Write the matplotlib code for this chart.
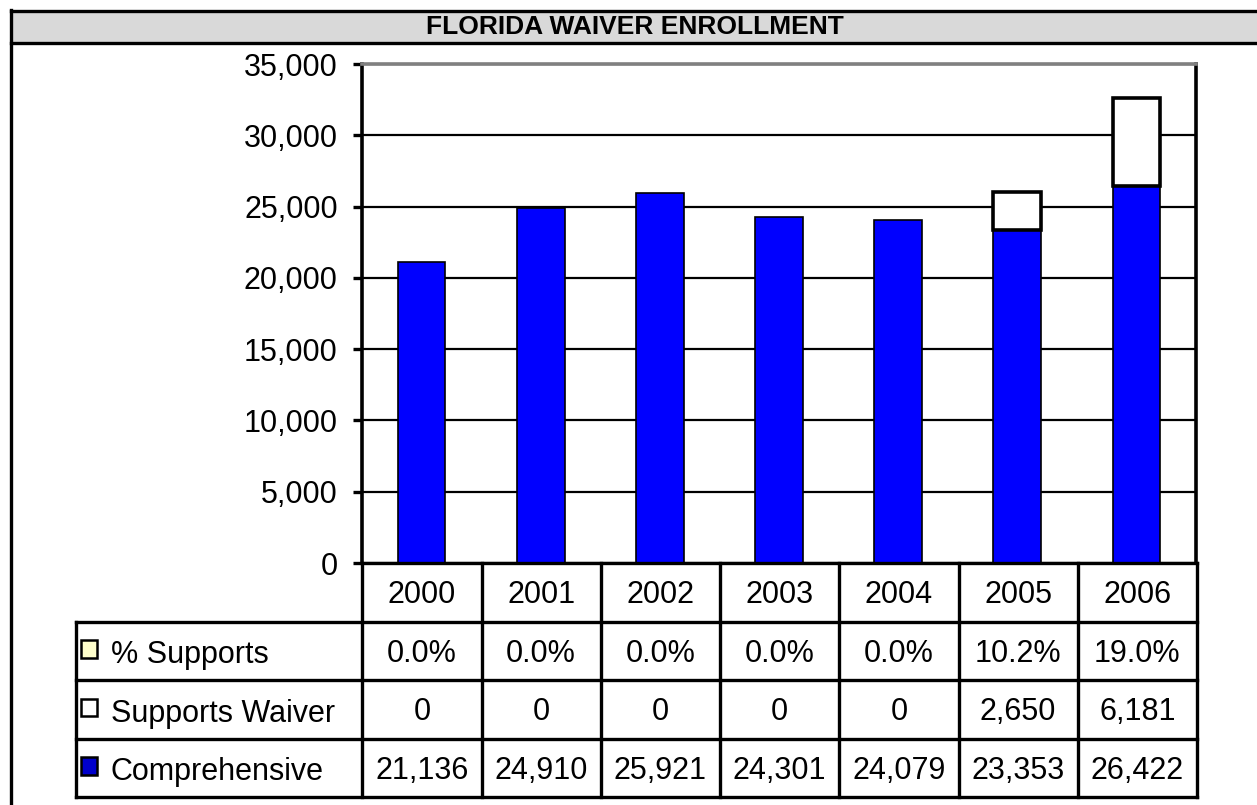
import matplotlib
matplotlib.use('Agg')
import matplotlib.pyplot as plt
from matplotlib.patches import Rectangle
from matplotlib.lines import Line2D
from matplotlib.ticker import FuncFormatter
import numpy as np

plt.rcParams['font.family'] = ['Liberation Sans', 'DejaVu Sans']

# data
years = ['2000', '2001', '2002', '2003', '2004', '2005', '2006']
comprehensive = [21136, 24910, 25921, 24301, 24079, 23353, 26422]
supports_waiver = [0, 0, 0, 0, 0, 2650, 6181]
pct_supports = [0.0, 0.0, 0.0, 0.0, 0.0, 10.2, 19.0]
row_labels = ['% Supports', 'Supports Waiver', 'Comprehensive']
row_colors = ['#ffffcc', 'white', '#0000cc']

W, H = 1257, 805
fig = plt.figure(figsize=(W / 100, H / 100), dpi=100)

def fx(px):
    return px / W

def fy(py):
    return 1 - py / H

# title band and outer frame
fig.patches.append(Rectangle((fx(11), fy(43)), 1 - fx(11), (43 - 11) / H,
                             transform=fig.transFigure, facecolor='#d9d9d9', edgecolor='none'))
for xs, ys in [([fx(11), 1], [fy(11), fy(11)]),
               ([fx(11), 1], [fy(43), fy(43)]),
               ([fx(11), fx(11)], [fy(10), 0])]:
    fig.lines.append(Line2D(xs, ys, transform=fig.transFigure, color='black', lw=2.4))
fig.text(fx(635), fy(27), 'FLORIDA WAIVER ENROLLMENT', ha='center', va='center',
         fontsize=19, fontweight='bold')

# bar chart
ax = fig.add_axes([fx(362), fy(563), (1196 - 362) / W, (563 - 64) / H])
x = np.arange(len(years))
comp = np.array(comprehensive)
supp = np.array(supports_waiver)
ax.bar(x, comp, width=0.4, color='#0000ff', edgecolor='black', lw=1.2, zorder=3)
m = supp > 0
ax.bar(x[m], supp[m], bottom=comp[m], width=0.4, color='white', edgecolor='black', lw=2.6, zorder=3)

ax.set_xlim(-0.5, len(years) - 0.5)
ax.set_ylim(0, 35000)
ax.set_yticks(np.arange(0, 35001, 5000))
ax.yaxis.set_major_formatter(FuncFormatter(lambda v, p: f'{int(v):,}'))
ax.tick_params(axis='y', labelsize=22, length=6.5, width=2.4, pad=11)
ax.set_xticks([])
ax.yaxis.grid(True, color='black', lw=1.6)
ax.set_axisbelow(True)
ax.spines['top'].set_color('#808080')
ax.spines['top'].set_linewidth(2.6)
ax.spines['left'].set_linewidth(2.6)
ax.spines['right'].set_linewidth(2.6)
ax.spines['bottom'].set_visible(False)

# data table below the chart
n = len(years)
lab_w = (362 - 76) / ((1196 - 362) / n)
tax = fig.add_axes([fx(76), fy(797), (1197 - 76) / W, (797 - 563) / H])
tax.set_xlim(-lab_w, n)
tax.set_ylim(4, 0)
tax.axis('off')

lw = 2.4
tax.plot([0, n], [0, 0], color='black', lw=lw, clip_on=False)
for r in range(1, 5):
    tax.plot([-lab_w, n], [r, r], color='black', lw=lw, clip_on=False)
for c in range(n + 1):
    tax.plot([c, c], [0, 4], color='black', lw=lw, clip_on=False)
tax.plot([-lab_w, -lab_w], [1, 4], color='black', lw=lw, clip_on=False)

for i, yr in enumerate(years):
    tax.text(i + 0.5, 0.55, yr, ha='center', va='center', fontsize=22)

rows = [[f'{v:.1f}%' for v in pct_supports],
        [f'{v:,}' for v in supports_waiver],
        [f'{v:,}' for v in comprehensive]]
for r, vals in enumerate(rows):
    for i, s in enumerate(vals):
        tax.text(i + 0.5, r + 1.55, s, ha='center', va='center', fontsize=22)
    tax.add_patch(Rectangle((-lab_w + 0.04, r + 1.32), 0.14, 0.3,
                            facecolor=row_colors[r], edgecolor='black', lw=1.8))
    tax.text(-lab_w + 0.29, r + 1.58, row_labels[r], ha='left', va='center', fontsize=22)

fig.savefig('out.png', dpi=100)
